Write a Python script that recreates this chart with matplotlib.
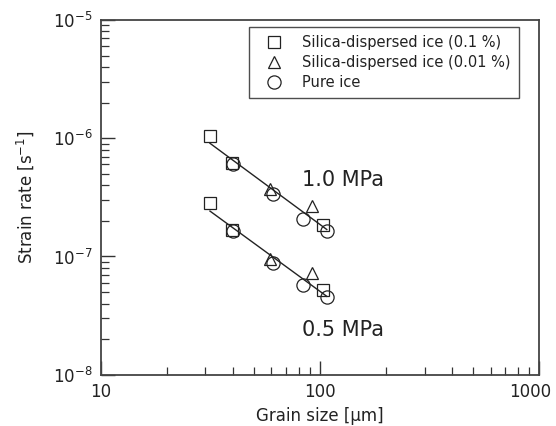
import matplotlib
matplotlib.use("Agg")
import matplotlib.pyplot as plt
import matplotlib.transforms as mtransforms
import numpy as np
from matplotlib.ticker import LogLocator, FuncFormatter, NullFormatter

plt.rcParams['font.family'] = ['DejaVu Sans']
plt.rcParams['mathtext.default'] = 'regular'

# Data (grain size in um, strain rate in 1/s)
sq_x_10 = [31.5, 39.5, 103.5]
sq_y_10 = [1.04e-6, 6.2e-7, 1.85e-7]
sq_x_05 = [31.5, 39.5, 103.5]
sq_y_05 = [2.81e-7, 1.67e-7, 5.2e-8]

tri_x_10 = [59.2, 92.3]
tri_y_10 = [3.7e-7, 2.67e-7]
tri_x_05 = [59.2, 92.3]
tri_y_05 = [9.6e-8, 7.2e-8]

ci_x_10 = [40.2, 61.2, 84.0, 107.4]
ci_y_10 = [6.1e-7, 3.4e-7, 2.06e-7, 1.64e-7]
ci_x_05 = [40.0, 61.2, 84.0, 107.4]
ci_y_05 = [1.65e-7, 8.8e-8, 5.7e-8, 4.5e-8]

fit_x = [31.5, 107.4]
fit_y_10 = [9.06e-7, 1.69e-7]
fit_y_05 = [2.42e-7, 4.6e-8]

labels = ['Silica-dispersed ice (0.1 %)', 'Silica-dispersed ice (0.01 %)', 'Pure ice']

fig = plt.figure(figsize=(5.56, 4.26), dpi=100)
ax = fig.add_axes([100.7/556, 1-374.7/426, (539.3-100.7)/556, (374.7-20)/426])

lc = '#222222'
ax.plot(fit_x, fit_y_10, color=lc, lw=1.0, zorder=2)
ax.plot(fit_x, fit_y_05, color=lc, lw=1.0, zorder=2)

mk = dict(linestyle='none', markerfacecolor='none', markeredgecolor='#222222', markeredgewidth=0.9, zorder=3)
h1, = ax.plot(sq_x_10 + sq_x_05, sq_y_10 + sq_y_05, marker='s', markersize=8.8, label=labels[0], **mk)
h2, = ax.plot(tri_x_10 + tri_x_05, tri_y_10 + tri_y_05, marker='^', markersize=8.5, label=labels[1], **mk)
h3, = ax.plot(ci_x_10 + ci_x_05, ci_y_10 + ci_y_05, marker='o', markersize=9.5, label=labels[2], **mk)

ax.set_xscale('log')
ax.set_yscale('log')
ax.set_xlim(10, 1000)
ax.set_ylim(1e-8, 1e-5)

ax.xaxis.set_major_locator(LogLocator(base=10, numticks=10))
ax.xaxis.set_major_formatter(FuncFormatter(lambda v, p: f'{int(round(v))}'))
ax.yaxis.set_major_locator(LogLocator(base=10, numticks=10))
ax.yaxis.set_major_formatter(FuncFormatter(lambda v, p: r'$10^{%d}$' % int(round(np.log10(v)))))
ax.xaxis.set_minor_locator(LogLocator(base=10, subs=np.arange(2, 10), numticks=20))
ax.yaxis.set_minor_locator(LogLocator(base=10, subs=np.arange(2, 10), numticks=20))
ax.xaxis.set_minor_formatter(NullFormatter())
ax.yaxis.set_minor_formatter(NullFormatter())

ax.tick_params(which='both', direction='in', top=False, right=False, color='#333333')
ax.tick_params(which='major', length=10, width=1.0, labelsize=12, pad=6, labelcolor='#222222')
ax.tick_params(which='minor', length=6, width=0.9)
for s in ax.spines.values():
    s.set_color('#444444')
    s.set_linewidth(1.3)

ax.set_xlabel('Grain size [μm]', fontsize=12, color='#222222', labelpad=4)
ax.set_ylabel(r'Strain rate [s$^{-1}$]', fontsize=12, color='#222222', labelpad=12)

ax.text(127, 4.4e-7, '1.0 MPa', fontsize=15, ha='center', va='center', color='#222222')
ax.text(127, 2.38e-8, '0.5 MPa', fontsize=15, ha='center', va='center', color='#222222')

leg = ax.legend(handles=[h1, h2, h3], loc='upper right', bbox_to_anchor=(0.953, 0.98),
                fontsize=10.5, frameon=True, fancybox=False, edgecolor='#222222',
                handlelength=2.3, handletextpad=0.8, borderpad=0.55, labelspacing=0.35,
                borderaxespad=0)
leg.get_frame().set_linewidth(1.0)
for t in leg.get_texts():
    t.set_color('#222222')

fig.canvas.draw()
for t in ax.get_xticklabels():
    if t.get_text() == '1000':
        t.set_transform(t.get_transform() + mtransforms.ScaledTranslation(-9/100, 0, fig.dpi_scale_trans))

fig.savefig('out.png', dpi=100)
